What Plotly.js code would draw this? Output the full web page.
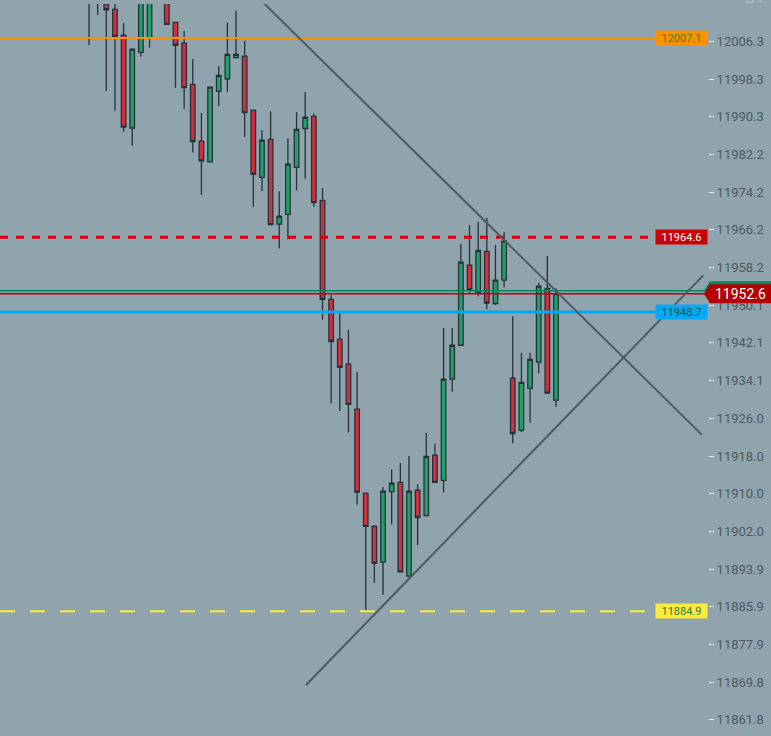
<!DOCTYPE html>
<html>
<head>
<meta charset="utf-8">
<script src="https://cdn.plot.ly/plotly-3.0.1.min.js"></script>
<style>html,body{margin:0;padding:0;background:#90a4ae;}#chart{width:771px;height:736px;}</style>
</head>
<body>
<div id="chart"></div>
<script>
// ---- data ----
const barIndex = Array.from({length: 55}, (_, i) => i);
const openVals = [12024.0,12030.0,12014.3,12013.2,12007.7,11987.9,12004.0,12007.0,12024.0,12022.0,
  12010.4,12006.0,11997.2,11985.1,11980.7,11995.7,11998.4,12002.9,12003.2,11991.7,
  11977.4,11985.5,11967.4,11969.5,11979.5,11987.8,11990.4,11972.5,11951.4,11942.9,
  11937.6,11928.0,11910.1,11903.0,11895.4,11910.4,11912.4,11892.4,11910.7,11905.3,
  11918.2,11912.8,11934.4,11941.6,11958.7,11952.9,11961.6,11950.5,11955.5,11934.6,
  11923.5,11932.4,11938.0,11953.7,11929.9];
const highVals = [12028.0,12034.0,12018.0,12017.0,12010.3,12004.9,12022.0,12025.0,12033.0,12024.0,
  12010.4,12008.6,12002.6,11991.1,11996.7,12001.1,12010.4,12012.9,12006.5,11991.7,
  11987.5,11991.5,11974.4,11985.7,11991.3,11995.5,11991.0,11975.1,11952.3,11948.9,
  11944.9,11935.9,11910.1,11903.3,11911.4,11915.2,11916.5,11918.0,11912.0,11922.9,
  11920.6,11945.3,11945.3,11963.2,11967.2,11967.9,11968.7,11963.0,11965.7,11947.8,
  11940.0,11940.0,11954.9,11960.6,11953.7];
const lowVals = [12005.6,12012.0,11995.8,11991.6,11987.1,11984.1,12003.1,12005.0,12017.0,12009.9,
  11996.5,11992.0,11982.7,11973.6,11980.5,11992.6,11995.6,12002.7,11986.0,11971.1,
  11974.5,11967.3,11962.2,11964.2,11974.6,11977.1,11971.1,11947.1,11929.2,11927.6,
  11923.0,11907.6,11885.2,11891.0,11888.4,11903.4,11893.3,11892.3,11899.0,11905.1,
  11912.4,11910.2,11931.7,11941.6,11952.7,11952.0,11949.3,11950.2,11953.9,11920.7,
  11923.1,11925.1,11935.6,11931.4,11928.5];
const closeVals = [12018.0,12022.0,12013.1,12007.4,11988.1,12004.7,12019.0,12021.0,12030.0,12010.0,
  12005.5,11996.5,11985.0,11980.9,11996.6,11999.1,12003.6,12003.6,11991.2,11978.0,
  11985.3,11967.3,11969.1,11980.2,11987.6,11990.2,11972.0,11951.4,11942.4,11936.9,
  11929.0,11910.3,11903.0,11895.1,11910.5,11912.2,11893.3,11910.5,11904.9,11917.9,
  11912.4,11934.4,11941.6,11959.3,11953.4,11961.8,11950.6,11955.5,11963.8,11922.8,
  11933.7,11938.6,11954.2,11931.4,11952.6];

// y-axis tick labels
const tickValues = [12006.3,11998.3,11990.3,11982.2,11974.2,11966.2,11958.2,11950.1,11942.1,
  11934.1,11926.0,11918.0,11910.0,11902.0,11893.9,11885.9,11877.9,11869.8,11861.8];
const tickLabels = tickValues.map(v => v.toFixed(1));

// horizontal price levels with labels
const levelValues = [12007.1, 11964.6, 11948.7, 11884.9];
const levelColors = ['#ff9100', '#d50000', '#03a9f4', '#ffeb3b'];
const levelDash   = ['solid', '8px,8px', 'solid', '15px,15px'];
const levelWidth  = [2, 3, 3, 2];
const levelTextColors = ['#4a7a12', '#ffffff', '#0d5a4c', '#2e7d32'];
const levelBg = ['#ff9100', '#cc0000', '#03a9f4', '#ffeb3b'];

// bid / last lines
const bidValue = 11953.2;
const lastValue = 11952.6;

// trend lines (bar index, price)
const trendStartX = [19.83, 25.09];
const trendStartY = [12015.2, 11869.2];
const trendEndX   = [70.88, 71.03];
const trendEndY   = [11922.5, 11956.5];

// ---- chart ----
const W = 771, H = 736, mL = 0, mR = 63, mT = 4, mB = 0;
const plotW = W - mL - mR, plotH = H - mT - mB;
const px = p => p / plotW; // pixel -> paper x

const trace = {
  type: 'candlestick',
  x: barIndex, open: openVals, high: highVals, low: lowVals, close: closeVals,
  increasing: {line: {color: '#263238', width: 1.3}, fillcolor: '#22a06a'},
  decreasing: {line: {color: '#263238', width: 1.3}, fillcolor: '#d32f3e'},
  whiskerwidth: 0, hoverinfo: 'skip', showlegend: false
};

const shapes = [];
const annotations = [];
levelValues.forEach((v, i) => {
  shapes.push({type: 'line', xref: 'paper', yref: 'y', x0: 0, x1: px(657), y0: v, y1: v,
    line: {color: levelColors[i], width: levelWidth[i], dash: levelDash[i]}, layer: 'above'});
  annotations.push({xref: 'paper', yref: 'y', x: px(708), y: v, xanchor: 'right', yanchor: 'middle',
    text: v.toFixed(1), showarrow: false, bgcolor: levelBg[i], width: 47, height: 10, borderpad: 2,
    font: {family: 'Roboto', size: 11, color: levelTextColors[i]}});
});
// bid and last lines
shapes.push({type: 'line', xref: 'paper', yref: 'y', x0: 0, x1: px(705), y0: bidValue, y1: bidValue,
  line: {color: '#00875a', width: 1.5}, layer: 'above'});
shapes.push({type: 'line', xref: 'paper', yref: 'y', x0: 0, x1: px(705), y0: lastValue, y1: lastValue,
  line: {color: '#c00000', width: 1.5}, layer: 'above'});
// trend lines
for (let i = 0; i < trendStartX.length; i++) {
  shapes.push({type: 'line', xref: 'x', yref: 'y', x0: trendStartX[i], y0: trendStartY[i],
    x1: trendEndX[i], y1: trendEndY[i], line: {color: '#4d5a61', width: 2}, layer: 'above'});
}
// arrow labels on the axis (bid behind, last in front)
const unitsPerPx = (12014.33 - 11858.33) / plotH;
function arrowPath(v) {
  const h = 9.5 * unitsPerPx;
  return 'M' + px(704) + ',' + v + ' L' + px(710) + ',' + (v + h) + ' L' + px(780) + ',' + (v + h) +
         ' L' + px(780) + ',' + (v - h) + ' L' + px(710) + ',' + (v - h) + ' Z';
}
shapes.push({type: 'path', xref: 'paper', yref: 'y', path: arrowPath(bidValue),
  fillcolor: '#00875a', line: {width: 0}, layer: 'above'});
shapes.push({type: 'path', xref: 'paper', yref: 'y', path: arrowPath(lastValue),
  fillcolor: '#b30000', line: {width: 0}, layer: 'above'});
annotations.push({xref: 'paper', yref: 'y', x: px(740), y: lastValue, xanchor: 'center', yanchor: 'middle',
  text: lastValue.toFixed(1), showarrow: false, font: {family: 'Roboto', size: 14, color: '#ffffff'}});
// small window icons at the very top right
const py = p => 1 - (p - mT) / plotH;
shapes.push({type: 'rect', xref: 'paper', yref: 'paper', x0: px(747), x1: px(753), y0: py(2.5), y1: py(-4),
  line: {color: '#b8c5cc', width: 1}, layer: 'above'});
shapes.push({type: 'line', xref: 'paper', yref: 'paper', x0: px(758), x1: px(762), y0: py(2.5), y1: py(-2),
  line: {color: '#b8c5cc', width: 1}, layer: 'above'});
shapes.push({type: 'line', xref: 'paper', yref: 'paper', x0: px(758), x1: px(762), y0: py(-2), y1: py(2.5),
  line: {color: '#b8c5cc', width: 1}, layer: 'above'});

const x0 = -89 / 8.648;
const layout = {
  width: W, height: H,
  margin: {l: mL, r: mR, t: mT, b: mB, pad: 0},
  paper_bgcolor: '#90a4ae', plot_bgcolor: '#90a4ae',
  showlegend: false, boxgap: 0.25,
  xaxis: {visible: false, range: [x0, x0 + plotW / 8.648], rangeslider: {visible: false}, fixedrange: true},
  yaxis: {side: 'right', range: [11858.33, 12014.33], tickmode: 'array', tickvals: tickValues,
    ticktext: tickLabels, ticks: 'outside', ticklen: 5, tickwidth: 1, tickcolor: '#eceff1',
    showgrid: false, zeroline: false, showline: false, fixedrange: true,
    tickfont: {family: 'Roboto', size: 13, color: '#4b5a63'}},
  shapes: shapes, annotations: annotations
};
Plotly.newPlot('chart', [trace], layout, {displayModeBar: false, staticPlot: true});
</script>
</body>
</html>
